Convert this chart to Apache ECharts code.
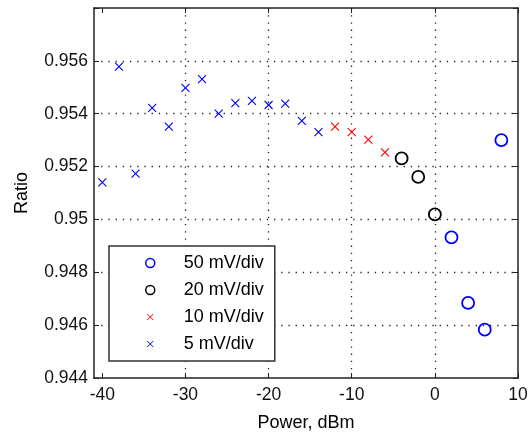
<!DOCTYPE html>
<html>
<head>
<meta charset="utf-8">
<script src="https://cdn.jsdelivr.net/npm/echarts@6/dist/echarts.min.js"></script>
<style>
html,body{margin:0;padding:0;background:#fff;}
#c{width:528px;height:432px;}
</style>
</head>
<body>
<div id="c"></div>
<script>
// ---- data ----
const seriesNames = ['50 mV/div', '20 mV/div', '10 mV/div', '5 mV/div'];

const power50 = [2, 4, 6, 8];
const ratio50 = [0.94932, 0.94684, 0.94583, 0.95300];

const power20 = [-4, -2, 0];
const ratio20 = [0.95231, 0.95161, 0.95019];

const power10 = [-12, -10, -8, -6];
const ratio10 = [0.95351, 0.95330, 0.95302, 0.95254];

const power5 = [-40, -38, -36, -34, -32, -30, -28, -26, -24, -22, -20, -18, -16, -14];
const ratio5 = [0.95140, 0.95578, 0.95173, 0.95422, 0.95351, 0.95498, 0.95531,
                0.95400, 0.95440, 0.95449, 0.95433, 0.95438, 0.95373, 0.95330];

const xTicks = [-40, -30, -20, -10, 0, 10];
const yTicks = [0.944, 0.946, 0.948, 0.95, 0.952, 0.954, 0.956];

// ---- build ----
function pairs(xs, ys) { return xs.map((x, i) => [x, ys[i]]); }

const FONT = '"Liberation Sans", Arial, sans-serif';
const crossPath = 'path://M0,0L8,8M8,0L0,8';
const crossLegend = 'path://M0,0L0,0M9,9L9,9M1.5,1.5L7.5,7.5M7.5,1.5L1.5,7.5';

const axisLineStyle = { color: '#222', width: 1.5 };
const gridLine = { color: '#222', width: 1.3, type: [1.3, 5.9] };

const chart = echarts.init(document.getElementById('c'), null, { renderer: 'canvas' });

chart.setOption({
  animation: false,
  backgroundColor: '#fff',
  grid: { left: 94, right: 10, top: 8, bottom: 54, containLabel: false, outerBoundsMode: 'none' },
  xAxis: [
    {
      type: 'value', position: 'bottom', min: -41, max: 10,
      minInterval: 10, maxInterval: 10,
      name: 'Power, dBm', nameLocation: 'middle', nameGap: 36,
      nameTextStyle: { fontFamily: FONT, fontSize: 18, color: '#000' },
      axisLine: { show: true, onZero: false, lineStyle: axisLineStyle },
      axisTick: { show: true, inside: true, length: 5, lineStyle: { color: '#222', width: 1 }, customValues: xTicks },
      axisLabel: { show: true, margin: 8, fontFamily: FONT, fontSize: 17.5, color: '#111', customValues: xTicks },
      splitLine: { show: true, showMinLine: false, showMaxLine: false, lineStyle: gridLine }
    },
    {
      type: 'value', position: 'top', min: -41, max: 10,
      minInterval: 10, maxInterval: 10,
      axisLine: { show: true, onZero: false, lineStyle: axisLineStyle },
      axisTick: { show: true, inside: true, length: 5, lineStyle: { color: '#222', width: 1 }, customValues: xTicks },
      axisLabel: { show: false },
      splitLine: { show: false }
    }
  ],
  yAxis: [
    {
      type: 'value', position: 'left', min: 0.944, max: 0.958, interval: 0.002,
      name: 'Ratio', nameLocation: 'middle', nameGap: 63,
      nameTextStyle: { fontFamily: FONT, fontSize: 18, color: '#000' },
      axisLine: { show: true, onZero: false, lineStyle: axisLineStyle },
      axisTick: { show: true, inside: true, length: 5, lineStyle: { color: '#222', width: 1 } },
      axisLabel: {
        show: true, margin: 6, fontFamily: FONT, fontSize: 17.5, color: '#111',
        formatter: v => {
          const t = yTicks.find(k => Math.abs(k - v) < 1e-7);
          return t === undefined ? '' : String(t);
        }
      },
      splitLine: { show: true, showMinLine: false, showMaxLine: false, lineStyle: gridLine }
    },
    {
      type: 'value', position: 'right', min: 0.944, max: 0.958, interval: 0.002,
      axisLine: { show: true, onZero: false, lineStyle: axisLineStyle },
      axisTick: { show: true, inside: true, length: 5, lineStyle: { color: '#222', width: 1 } },
      axisLabel: { show: false },
      splitLine: { show: false }
    }
  ],
  legend: {
    orient: 'vertical',
    left: 109, top: 246,
    itemWidth: 57, itemHeight: 9, itemGap: 9,
    padding: [8, 11, 8, 36],
    borderColor: '#333', borderWidth: 1.5, backgroundColor: '#fff',
    selectedMode: false,
    textStyle: { fontFamily: FONT, fontSize: 18, lineHeight: 18, color: '#000' },
    data: [
      { name: seriesNames[0], icon: 'circle', itemStyle: { color: 'rgba(0,0,0,0)', borderColor: '#0000ff', borderWidth: 1.5 } },
      { name: seriesNames[1], icon: 'circle', itemStyle: { color: 'rgba(0,0,0,0)', borderColor: '#000000', borderWidth: 1.5 } },
      { name: seriesNames[2], icon: crossLegend, itemStyle: { color: 'rgba(0,0,0,0)', borderColor: '#ff0000', borderWidth: 1 } },
      { name: seriesNames[3], icon: crossLegend, itemStyle: { color: 'rgba(0,0,0,0)', borderColor: '#0000ff', borderWidth: 1 } }
    ]
  },
  series: [
    {
      name: seriesNames[0], type: 'scatter', xAxisIndex: 0, yAxisIndex: 0,
      symbol: 'circle', symbolSize: 12,
      itemStyle: { color: 'rgba(0,0,0,0)', borderColor: '#0000ff', borderWidth: 1.8, opacity: 1 },
      data: pairs(power50, ratio50)
    },
    {
      name: seriesNames[1], type: 'scatter', xAxisIndex: 0, yAxisIndex: 0,
      symbol: 'circle', symbolSize: 12,
      itemStyle: { color: 'rgba(0,0,0,0)', borderColor: '#000000', borderWidth: 1.8, opacity: 1 },
      data: pairs(power20, ratio20)
    },
    {
      name: seriesNames[2], type: 'scatter', xAxisIndex: 0, yAxisIndex: 0,
      symbol: crossPath, symbolSize: 8,
      itemStyle: { color: 'rgba(0,0,0,0)', borderColor: '#ff0000', borderWidth: 1.1, opacity: 1 },
      data: pairs(power10, ratio10)
    },
    {
      name: seriesNames[3], type: 'scatter', xAxisIndex: 0, yAxisIndex: 0,
      symbol: crossPath, symbolSize: 8,
      itemStyle: { color: 'rgba(0,0,0,0)', borderColor: '#0000ff', borderWidth: 1.1, opacity: 1 },
      data: pairs(power5, ratio5)
    }
  ]
});
</script>
</body>
</html>
